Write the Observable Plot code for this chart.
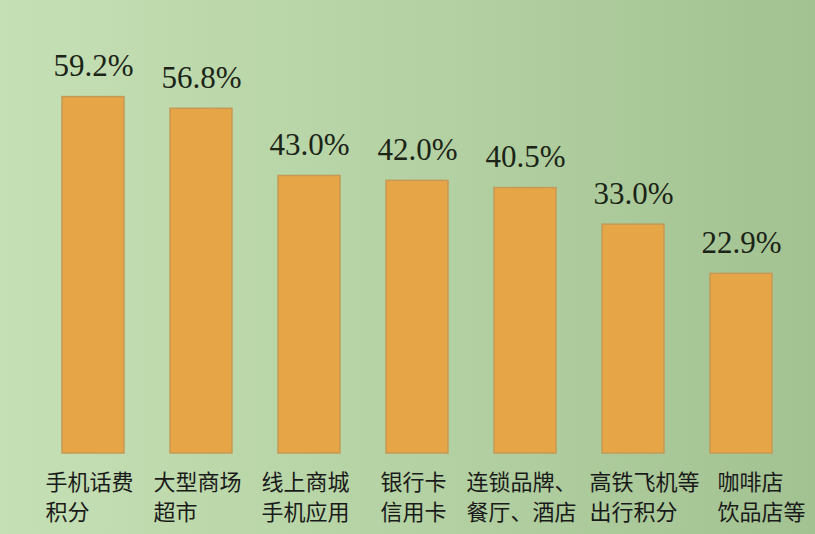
<!DOCTYPE html>
<html>
<head>
<meta charset="utf-8">
<script src="https://cdn.jsdelivr.net/npm/d3@7"></script>
<script src="https://cdn.jsdelivr.net/npm/@observablehq/plot@0.6"></script>
<style>
  html, body { margin: 0; padding: 0; }
  #chart svg { display: block; }
</style>
</head>
<body>
<div id="chart"></div>
<script>
// Categories (two lines each; shorter line padded with ideographic spaces so lines left-align)
const line1 = ["手机话费", "大型商场", "线上商城", "银行卡", "连锁品牌、", "高铁飞机等", "咖啡店　"];
const line2 = ["积分　　", "超市　　", "手机应用", "信用卡", "餐厅、酒店", "出行积分　", "饮品店等"];
const values = [59.2, 56.8, 43.0, 42.0, 40.5, 33.0, 22.9];
const valueLabels = ["59.2%", "56.8%", "43.0%", "42.0%", "40.5%", "33.0%", "22.9%"];
const baseline = -14; // the original chart's bars start below zero

const data = values.map((v, i) => ({
  key: String(i),
  cat: line1[i] + "\n" + line2[i],
  value: v,
  label: valueLabels[i]
}));

const catStyle = {
  x: "key", text: "cat", frameAnchor: "bottom",
  lineAnchor: "top", dy: 15, lineHeight: 1.36,
  fontFamily: "Noto Sans CJK SC, sans-serif",
  fontSize: 22, fill: "#1a1a1a"
};

const chart = Plot.plot({
  width: 815,
  height: 534,
  marginLeft: 36,
  marginRight: 18,
  marginTop: 44,
  marginBottom: 81,
  style: {
    background: "linear-gradient(90deg, #c6e0b5 0%, #b4d2a3 50%, #a3c292 100%)",
    overflow: "visible"
  },
  x: { type: "band", domain: data.map(d => d.key), paddingInner: 0.43, paddingOuter: 0.215, axis: null },
  y: { domain: [baseline, 70], axis: null },
  marks: [
    Plot.barY(data, {
      x: "key", y1: () => baseline, y2: "value",
      fill: "#e6a546", stroke: "#c49a56", strokeWidth: 1.5
    }),
    Plot.text(data, {
      x: "key", y: "value", text: "label",
      lineAnchor: "bottom", dy: -21,
      fontFamily: "Liberation Serif, Times New Roman, serif",
      fontSize: 31, fill: "#1b2417"
    }),
    Plot.text(data.slice(0, 5), { ...catStyle, dx: -4 }),
    Plot.text(data.slice(5, 6), { ...catStyle, dx: 11 }),
    Plot.text(data.slice(6), { ...catStyle, dx: 20 })
  ]
});
document.getElementById("chart").appendChild(chart);
</script>
</body>
</html>
